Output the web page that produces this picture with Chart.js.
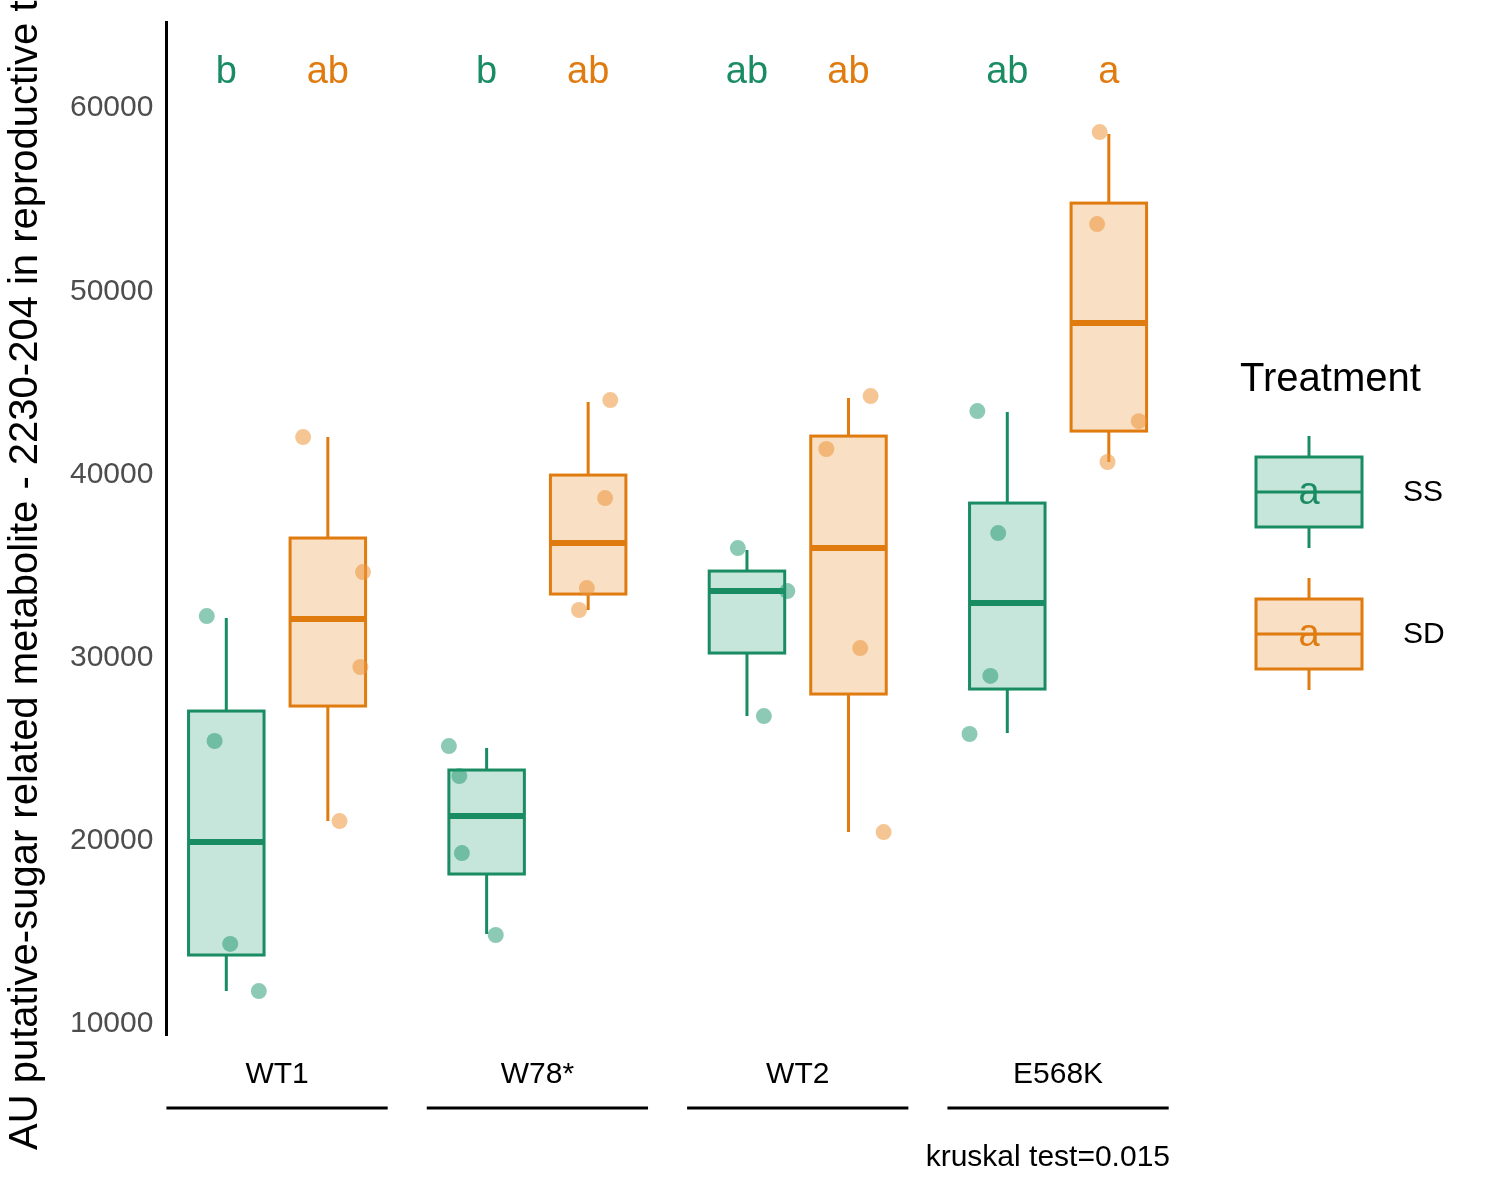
<!DOCTYPE html>
<html>
<head>
<meta charset="utf-8">
<script src="https://cdn.jsdelivr.net/npm/chart.js@4"></script>
<style>
  body { margin: 0; background: #fff; }
  #wrap { width: 1500px; height: 1200px; }
</style>
</head>
<body>
<div id="wrap"><canvas id="chart" width="1500" height="1200"></canvas></div>
<script>
// data
const groups = ['WT1', 'W78*', 'WT2', 'E568K'];
const treatments = ['SS', 'SD'];
// [whiskerLow, q1, median, q3, whiskerHigh] per group
const ssBoxes = [
  [11800, 13766, 19934, 27085, 32160],
  [14913, 18188, 21354, 23865, 25066],
  [26812, 30251, 33635, 34727, 35873],
  [25884, 28286, 32980, 38439, 43406]
];
const sdBoxes = [
  [21080, 27358, 32107, 36530, 42040],
  [32598, 33472, 36256, 39967, 43952],
  [20480, 28013, 35983, 42096, 44170],
  [40677, 42369, 48264, 54814, 58581]
];
// raw points: [group, jitter, value]
const ssPoints = [
  [1, -0.27, 32270], [1, -0.24, 25450], [1, -0.18, 14370], [1, -0.07, 11800],
  [2, -0.34, 25170], [2, -0.30, 23540], [2, -0.29, 19330], [2, -0.16, 14860],
  [3, -0.23, 35980], [3, -0.04, 33635], [3, -0.13, 26810],
  [4, -0.31, 43460], [4, -0.23, 36800], [4, -0.26, 29000], [4, -0.34, 25830]
];
const sdPoints = [
  [1, 0.10, 42040], [1, 0.33, 34670], [1, 0.32, 29490], [1, 0.24, 21080],
  [2, 0.28, 44060], [2, 0.26, 38710], [2, 0.19, 33800], [2, 0.16, 32600],
  [3, 0.28, 44280], [3, 0.11, 41390], [3, 0.24, 30520], [3, 0.33, 20480],
  [4, 0.16, 58690], [4, 0.15, 53670], [4, 0.31, 42910], [4, 0.19, 40680]
];
const ssLetters = ['b', 'b', 'ab', 'ab'];
const sdLetters = ['ab', 'ab', 'ab', 'a'];
const yTicks = [10000, 20000, 30000, 40000, 50000, 60000];
const letterY = 61950;
const kruskalText = 'kruskal test=0.015';

const green = '#1a8c63', greenFill = 'rgba(27,150,110,0.25)', greenPt = 'rgba(27,150,110,0.5)';
const orange = '#e07b10', orangeFill = 'rgba(232,140,40,0.28)', orangePt = 'rgba(236,150,60,0.55)';
const FONT = 'Liberation Sans, Arial, sans-serif';
const OFF = 0.195, HALF = 0.145;

const boxPlugin = {
  id: 'boxes',
  beforeDatasetsDraw(chart) {
    const { ctx, scales: { x, y } } = chart;
    ctx.save();
    const drawBox = (b, cx, stroke, fill) => {
      const l = x.getPixelForValue(cx - HALF), r = x.getPixelForValue(cx + HALF);
      const m = x.getPixelForValue(cx);
      ctx.strokeStyle = stroke; ctx.lineWidth = 3;
      ctx.beginPath();
      ctx.moveTo(m, y.getPixelForValue(b[0])); ctx.lineTo(m, y.getPixelForValue(b[1]));
      ctx.moveTo(m, y.getPixelForValue(b[3])); ctx.lineTo(m, y.getPixelForValue(b[4]));
      ctx.stroke();
      const t = y.getPixelForValue(b[3]), btm = y.getPixelForValue(b[1]);
      ctx.fillStyle = fill; ctx.fillRect(l, t, r - l, btm - t);
      ctx.strokeRect(l, t, r - l, btm - t);
      ctx.lineWidth = 6;
      ctx.beginPath();
      ctx.moveTo(l, y.getPixelForValue(b[2])); ctx.lineTo(r, y.getPixelForValue(b[2]));
      ctx.stroke();
    };
    groups.forEach((g, i) => {
      drawBox(ssBoxes[i], i + 1 - OFF, green, greenFill);
      drawBox(sdBoxes[i], i + 1 + OFF, orange, orangeFill);
    });
    ctx.restore();
  },
  afterDatasetsDraw(chart) {
    const { ctx, scales: { x, y }, chartArea } = chart;
    ctx.save();
    ctx.font = '38px ' + FONT;
    ctx.textAlign = 'center'; ctx.textBaseline = 'middle';
    groups.forEach((g, i) => {
      ctx.fillStyle = green;
      ctx.fillText(ssLetters[i], x.getPixelForValue(i + 1 - OFF), y.getPixelForValue(letterY));
      ctx.fillStyle = orange;
      ctx.fillText(sdLetters[i], x.getPixelForValue(i + 1 + OFF), y.getPixelForValue(letterY));
      // group underline
      ctx.strokeStyle = '#000'; ctx.lineWidth = 3;
      ctx.beginPath();
      ctx.moveTo(x.getPixelForValue(i + 1 - 0.425), 1108);
      ctx.lineTo(x.getPixelForValue(i + 1 + 0.425), 1108);
      ctx.stroke();
    });
    ctx.fillStyle = '#000';
    ctx.font = '30px ' + FONT;
    ctx.textAlign = 'right';
    ctx.fillText(kruskalText, chartArea.right, 1158);

    // legend
    ctx.textAlign = 'left';
    ctx.font = '40px ' + FONT;
    ctx.fillText('Treatment', 1240, 380);
    const keys = [[green, greenFill, 492], [orange, orangeFill, 634]];
    keys.forEach(([s, f, cy], k) => {
      ctx.strokeStyle = s; ctx.lineWidth = 3;
      ctx.beginPath(); ctx.moveTo(1309, cy - 56); ctx.lineTo(1309, cy + 56); ctx.stroke();
      ctx.fillStyle = '#fff'; ctx.fillRect(1256, cy - 35, 106, 70);
      ctx.fillStyle = f; ctx.fillRect(1256, cy - 35, 106, 70);
      ctx.strokeRect(1256, cy - 35, 106, 70);
      ctx.beginPath(); ctx.moveTo(1256, cy); ctx.lineTo(1362, cy); ctx.stroke();
      ctx.fillStyle = s; ctx.font = '38px ' + FONT; ctx.textAlign = 'center';
      ctx.fillText('a', 1309, cy + 2);
      ctx.fillStyle = '#000'; ctx.font = '30px ' + FONT; ctx.textAlign = 'left';
      ctx.fillText(treatments[k], 1403, cy + 1);
    });
    ctx.restore();
  }
};

const toXY = pts => pts.map(p => ({ x: p[0] + p[1], y: p[2] }));

new Chart(document.getElementById('chart'), {
  type: 'scatter',
  data: {
    datasets: [
      { label: 'SS', data: toXY(ssPoints), backgroundColor: greenPt, borderWidth: 0, pointRadius: 8 },
      { label: 'SD', data: toXY(sdPoints), backgroundColor: orangePt, borderWidth: 0, pointRadius: 8 }
    ]
  },
  options: {
    responsive: false,
    animation: false,
    layout: { padding: { top: 22, right: 330, bottom: 85, left: 2 } },
    plugins: { legend: { display: false }, tooltip: { enabled: false } },
    scales: {
      x: {
        type: 'linear', min: 0.575, max: 4.43,
        grid: { display: false, drawTicks: false },
        border: { display: false },
        afterBuildTicks: s => { s.ticks = groups.map((g, i) => ({ value: i + 1 })); },
        ticks: {
          padding: 22, color: '#000', font: { size: 30, family: FONT },
          callback: v => groups[v - 1]
        }
      },
      y: {
        min: 9400, max: 64700,
        afterBuildTicks: s => { s.ticks = yTicks.map(v => ({ value: v })); },
        grid: { display: false, drawTicks: true, tickLength: 9, tickWidth: 3, tickColor: '#000' },
        border: { display: true, color: '#000', width: 3 },
        ticks: { color: '#4d4d4d', padding: 4, font: { size: 30, family: FONT }, callback: v => String(v) },
        title: {
          display: true, color: '#000', padding: { top: 0, bottom: 16 },
          text: 'AU putative-sugar related metabolite - 2230-204 in reproductive tissue',
          font: { size: 40, family: FONT }
        }
      }
    }
  },
  plugins: [boxPlugin]
});
</script>
</body>
</html>
